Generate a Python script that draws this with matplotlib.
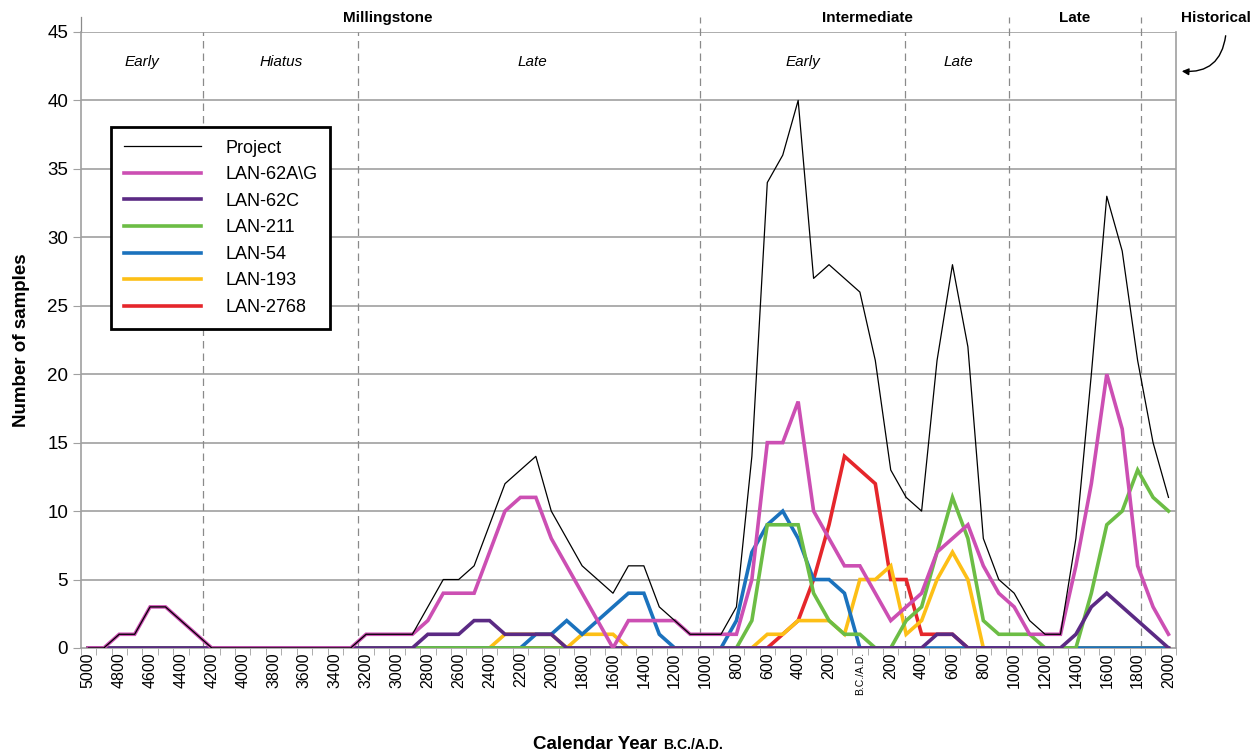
import numpy as np
import matplotlib
matplotlib.use('agg')
import matplotlib.pyplot as plt

plt.rcParams['font.family'] = ['Liberation Sans', 'DejaVu Sans']

# 100-year bins, 5000 B.C. (negative) to A.D. 2000
years = list(range(-5000, 2001, 100))

project = [0, 0, 1, 1, 3, 3, 2, 1, 0,
           0, 0, 0, 0, 0, 0, 0, 0,
           0, 1, 1, 1, 1, 3, 5, 5, 6, 9, 12, 13, 14, 10, 8, 6, 5, 4, 6, 6, 3, 2, 1,
           1, 1, 3, 14, 34, 36, 40, 27, 28, 27, 26,
           21, 13, 11, 10, 21, 28, 22, 8, 5, 4, 2, 1, 1, 8, 20, 33, 29, 21, 15, 11]
lan62ag = [0, 0, 1, 1, 3, 3, 2, 1, 0,
           0, 0, 0, 0, 0, 0, 0, 0,
           0, 1, 1, 1, 1, 2, 4, 4, 4, 7, 10, 11, 11, 8, 6, 4, 2, 0, 2, 2, 2, 2, 1,
           1, 1, 1, 5, 15, 15, 18, 10, 8, 6, 6,
           4, 2, 3, 4, 7, 8, 9, 6, 4, 3, 1, 1, 1, 6, 12, 20, 16, 6, 3, 1]
lan62c = [0, 0, 0, 0, 0, 0, 0, 0, 0,
          0, 0, 0, 0, 0, 0, 0, 0,
          0, 0, 0, 0, 0, 1, 1, 1, 2, 2, 1, 1, 1, 1, 0, 0, 0, 0, 0, 0, 0, 0, 0,
          0, 0, 0, 0, 0, 0, 0, 0, 0, 0, 0,
          0, 0, 0, 0, 1, 1, 0, 0, 0, 0, 0, 0, 0, 1, 3, 4, 3, 2, 1, 0]
lan211 = [0, 0, 0, 0, 0, 0, 0, 0, 0,
          0, 0, 0, 0, 0, 0, 0, 0,
          0, 0, 0, 0, 0, 0, 0, 0, 0, 0, 0, 0, 0, 0, 0, 0, 0, 0, 0, 0, 0, 0, 0,
          0, 0, 0, 2, 9, 9, 9, 4, 2, 1, 1,
          0, 0, 2, 3, 7, 11, 8, 2, 1, 1, 1, 0, 0, 0, 4, 9, 10, 13, 11, 10]
lan54 = [0, 0, 0, 0, 0, 0, 0, 0, 0,
         0, 0, 0, 0, 0, 0, 0, 0,
         0, 0, 0, 0, 0, 0, 0, 0, 0, 0, 0, 0, 1, 1, 2, 1, 2, 3, 4, 4, 1, 0, 0,
         0, 0, 2, 7, 9, 10, 8, 5, 5, 4, 0,
         0, 0, 0, 0, 0, 0, 0, 0, 0, 0, 0, 0, 0, 0, 0, 0, 0, 0, 0, 0]
lan193 = [0, 0, 0, 0, 0, 0, 0, 0, 0,
          0, 0, 0, 0, 0, 0, 0, 0,
          0, 0, 0, 0, 0, 0, 0, 0, 0, 0, 1, 1, 1, 1, 0, 1, 1, 1, 0, 0, 0, 0, 0,
          0, 0, 0, 0, 1, 1, 2, 2, 2, 1, 5,
          5, 6, 1, 2, 5, 7, 5, 0, 0, 0, 0, 0, 0, 0, 0, 0, 0, 0, 0, 0]
lan2768 = [0, 0, 0, 0, 0, 0, 0, 0, 0,
           0, 0, 0, 0, 0, 0, 0, 0,
           0, 0, 0, 0, 0, 0, 0, 0, 0, 0, 0, 0, 0, 0, 0, 0, 0, 0, 0, 0, 0, 0, 0,
           0, 0, 0, 0, 0, 1, 2, 5, 9, 14, 13,
           12, 5, 5, 1, 1, 1, 0, 0, 0, 0, 0, 0, 0, 0, 0, 0, 0, 0, 0, 0]

names = ['Project', 'LAN-62A\\G', 'LAN-62C', 'LAN-211', 'LAN-54', 'LAN-193', 'LAN-2768']
colors = ['black', '#cc4fb3', '#5b2a84', '#6cbd45', '#1b72bd', '#fdbf16', '#e5262b']

# period boundaries (bin index) and labels
bounds = [7.46, 17.47, 39.66, 52.92, 59.68, 68.2]
bounds_tall = [39.66, 59.68, 68.2]
periods = [('Millingstone', 19.4), ('Intermediate', 50.5), ('Late', 63.9), ('Historical', 73.1)]
subperiods = [('Early', 3.5), ('Hiatus', 12.5), ('Late', 28.8), ('Early', 46.3), ('Late', 56.4)]

x = np.arange(len(years))
series = [project, lan62ag, lan62c, lan211, lan54, lan193, lan2768]

fig = plt.figure(figsize=(12.6, 7.56), dpi=100)
ax = fig.add_axes([0.0640, 0.1429, 0.8695, 0.8148])

grid_c = '#a0a0a0'
for v in range(5, 50, 5):
    ax.axhline(v, color=grid_c, lw=1.2, zorder=1)

for b in bounds:
    top = 46.1 if b in bounds_tall else 45
    ax.plot([b, b], [0, top], color='#8a8a8a', lw=0.9, ls=(0, (6, 4)),
            clip_on=False, zorder=1)
ax.plot([-0.5, -0.5], [45, 46.1], color='#8a8a8a', lw=0.9, clip_on=False)

# drawing order: later sites under earlier ones, project on top
handles = {}
for i in [6, 5, 4, 3, 2, 1]:
    h, = ax.plot(x, series[i], color=colors[i], lw=2.6, zorder=3 + (6 - i),
                 solid_joinstyle='miter')
    handles[i] = h
h, = ax.plot(x, series[0], color='black', lw=0.9, zorder=10)
handles[0] = h

ax.set_xlim(-0.5, 70.5)
ax.set_ylim(0, 45)
for s in ['left', 'bottom', 'right']:
    ax.spines[s].set_color(grid_c)
    ax.spines[s].set_linewidth(1.2)
ax.spines['top'].set_visible(False)

ax.set_yticks(range(0, 50, 5))
ax.tick_params(axis='y', labelsize=13.5, length=6, color=grid_c, pad=3)

tick_pos = x[::2]
tick_lab = ['B.C./A.D.' if yr == 0 else str(abs(yr)) for yr in years[::2]]
ax.set_xticks(tick_pos)
ax.set_xticklabels(tick_lab, rotation=90, fontsize=11.5)
ax.tick_params(axis='x', which='major', length=0, pad=3)
for t in ax.get_xticklabels():
    if t.get_text() == 'B.C./A.D.':
        t.set_fontsize(7.5)
ax.set_xticks(np.arange(-0.5, 71, 1), minor=True)
ax.tick_params(axis='x', which='minor', length=5, color=grid_c)

for name, px in periods:
    ax.text(px, 46.0, name, ha='center', va='center', fontsize=11,
            fontweight='bold', clip_on=False)
for name, px in subperiods:
    ax.text(px, 42.8, name, ha='center', va='center', fontsize=11,
            style='italic')

ax.annotate('', xy=(1179, 756 - 71), xycoords='figure pixels',
            xytext=(1226, 756 - 33), textcoords='figure pixels',
            arrowprops=dict(arrowstyle='-|>', color='black', lw=1,
                            mutation_scale=10,
                            connectionstyle='arc3,rad=-0.5'))

leg = ax.legend([handles[i] for i in range(7)], names, loc='upper left',
                bbox_to_anchor=(0.0277, 0.8458), borderaxespad=0,
                fontsize=13, handlelength=4.26, handletextpad=1.38,
                labelspacing=0.53, fancybox=False, framealpha=1,
                edgecolor='black', borderpad=0.7)
leg.get_frame().set_linewidth(2)
leg.set_zorder(20)

fig.text(22 / 1260, 1 - 340 / 756, 'Number of samples', rotation=90,
         ha='center', va='center', fontsize=13.5, fontweight='bold')
fig.text(657 / 1260, 1 - 749 / 756, 'Calendar Year', ha='right',
         va='baseline', fontsize=13.5, fontweight='bold')
fig.text(663 / 1260, 1 - 749 / 756, 'B.C./A.D.', ha='left',
         va='baseline', fontsize=10, fontweight='bold')

fig.savefig('out.png', dpi=100)
